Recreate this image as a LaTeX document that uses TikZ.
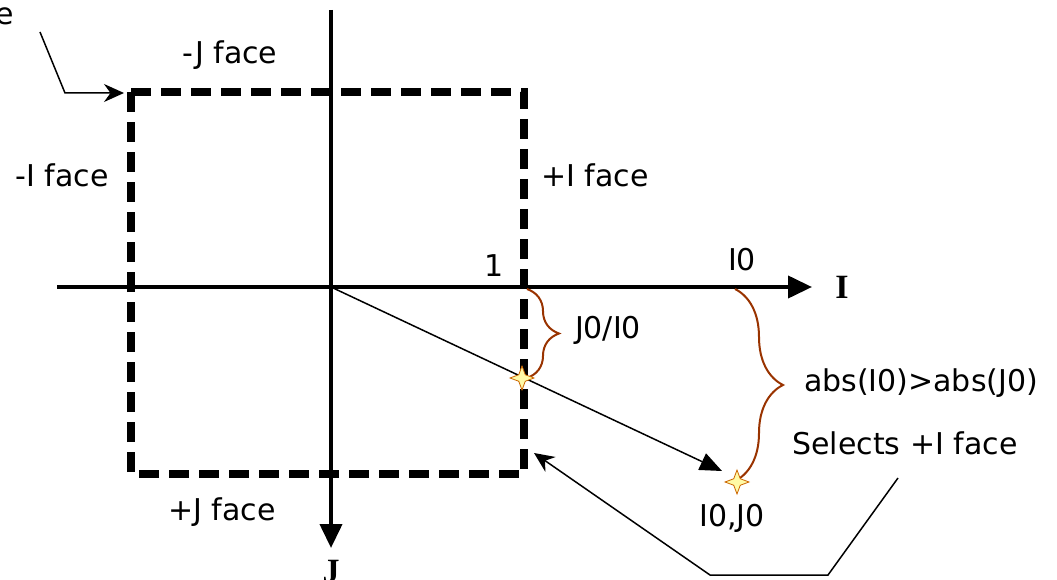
\documentclass[tikz,border=0pt]{standalone}
\usepackage{fontspec}
\setmainfont{DejaVu Sans}
\newfontfamily\axfont{Liberation Serif}
\usetikzlibrary{arrows.meta,decorations.pathreplacing,shapes.geometric}
\definecolor{bracebrown}{HTML}{993300}
\begin{document}
\begin{tikzpicture}[x=1pt,y=-1pt,
 lbl/.style={font=\fontsize{30}{36}\selectfont, inner sep=0pt},
 axlbl/.style={font=\axfont\bfseries\fontsize{34}{40}\selectfont, inner sep=0pt},
 face/.style={line width=8pt, dash pattern=on 20pt off 10pt},
 axis/.style={line width=4pt, -{Triangle[length=24pt,width=22pt]}},
 thinline/.style={line width=1.5pt},
 br/.style={draw=bracebrown, line width=2pt, decorate, decoration={brace, amplitude=#1}},
 spark/.style={star, star points=4, star point ratio=2.6, fill=yellow!35, draw=orange!80!black, line width=0.8pt, minimum size=24pt, inner sep=0pt}
]
\useasboundingbox (0,0) rectangle (1057,580);
% face box
\coordinate (tl) at (131,92);
\coordinate (tr) at (524,92);
\coordinate (brc) at (524,474);
\coordinate (bl) at (131,474);
\draw[face] (tl) -- (tr) -- (brc) -- (bl) -- cycle;
% axes
\coordinate (xs) at (57,287);
\coordinate (xe) at (812,287);
\coordinate (ys) at (331,10);
\coordinate (ye) at (331,548);
\coordinate (O) at (331,287);
\draw[axis] (xs) -- (xe);
\draw[axis] (ys) -- (ye);
\node[axlbl] (Ilbl) at (842,287) {I};
\node[axlbl] (Jlbl) at (331,572) {J};
% face labels
\node[lbl] (mJ) at (230,55) {-J face};
\node[lbl] (mI) at (62,175) {-I face};
\node[lbl] (pI) at (595,175) {+I face};
\node[lbl] (pJ) at (222,512) {+J face};
\node[lbl, anchor=east] (e) at (14,16) {e};
\node[lbl] (one) at (494,266) {1};
\node[lbl] (I0) at (742,260) {I0};
\node[lbl] (ratio) at (608,330) {J0/I0};
\node[lbl] (cmp) at (921,383) {abs(I0)>abs(J0)};
\node[lbl] (sel) at (905,443) {Selects +I face};
\node[lbl] (pt) at (732,518) {I0,J0};
% direction ray
\coordinate (rayend) at (722,471);
\draw[thinline, -{Triangle[length=22pt,width=18pt]}] (O) -- (rayend);
% braces
\coordinate (b1a) at (527,289);
\coordinate (b1b) at (527,378);
\coordinate (b2a) at (735,289);
\coordinate (b2b) at (735,481);
\draw[br=32pt] (b1a) -- (b1b);
\draw[br=48pt] (b2a) -- (b2b);
% sparkles
\node[spark] (s1) at (522,378) {};
\node[spark] (s2) at (737,482) {};
% callouts
\coordinate (c1) at (40,32);
\coordinate (c2) at (65,93);
\coordinate (c3) at (124,93);
\draw[thinline, -{Stealth[length=20pt,width=18pt]}] (c1) -- (c2) -- (c3);
\coordinate (d1) at (898,478);
\coordinate (d2) at (828,575);
\coordinate (d3) at (710,575);
\coordinate (d4) at (534,453);
\draw[thinline, -{Stealth[length=20pt,width=18pt]}] (d1) -- (d2) -- (d3) -- (d4);
\end{tikzpicture}
\end{document}
